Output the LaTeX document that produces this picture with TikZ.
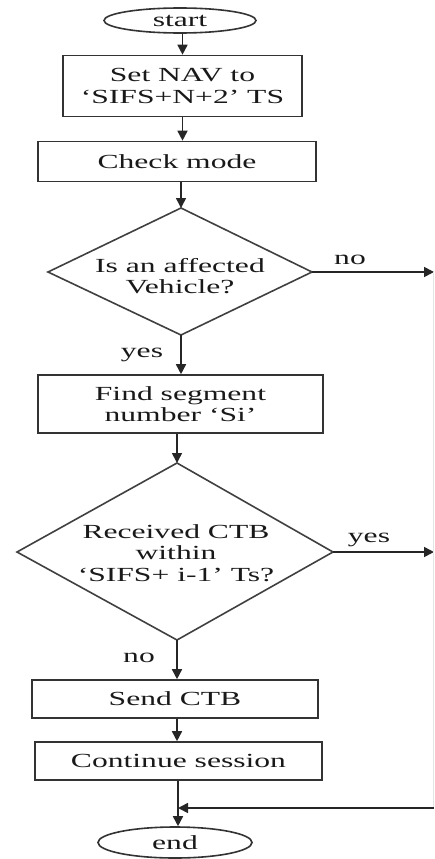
\documentclass[tikz,border=0pt]{standalone}
\usepackage{fontspec}
\setmainfont{Liberation Serif}[FakeStretch=1.58]
\usetikzlibrary{shapes.geometric,arrows.meta}
\begin{document}
\begin{tikzpicture}[x=1pt,y=-1pt,
  line width=1.6pt,
  font=\fontsize{20}{21.5}\selectfont,
  every node/.style={text=black!90},
  box/.style={draw=black!80, rectangle, inner sep=0pt, align=center},
  term/.style={draw=black!80, ellipse, inner sep=0pt},
  dtext/.style={align=center, inner sep=0pt},
  lab/.style={anchor=base, inner sep=0pt},
  arr/.style={draw=black!85, -{Triangle[length=10pt,width=10pt]}},
  dia/.style={draw=black!75},
  faint/.style={draw=black!10, line width=0.8pt}]
\useasboundingbox (0,0) rectangle (434,859);

% nodes
\node[term, minimum width=152pt, minimum height=25pt] (start) at (180,20.5) {start};
\node[box, minimum width=239pt, minimum height=61pt] (b1) at (182.5,86) {Set NAV to\\‘SIFS+N+2’ TS};
\node[box, minimum width=278pt, minimum height=40pt] (b2) at (177,161.5) {Check mode};

\coordinate (d1n) at (181,208);
\coordinate (d1e) at (312,272);
\coordinate (d1s) at (181,335);
\coordinate (d1w) at (48,272);
\draw[dia] (d1n) -- (d1e) -- (d1s) -- (d1w) -- cycle;
\node[dtext] (d1) at (180,276) {Is an affected\\Vehicle?};

\node[box, minimum width=285pt, minimum height=58pt] (b3) at (180.5,404) {Find segment\\number ‘Si’};

\coordinate (d2n) at (177,463);
\coordinate (d2e) at (333,552);
\coordinate (d2s) at (177,640);
\coordinate (d2w) at (17,552);
\draw[dia] (d2n) -- (d2e) -- (d2s) -- (d2w) -- cycle;
\node[dtext] (d2) at (176,553) {Received CTB\\within\\‘SIFS+ i-1’ Ts?};

\node[box, minimum width=286pt, minimum height=38pt] (b4) at (175,699) {Send CTB};
\node[box, minimum width=287pt, minimum height=38pt] (b5) at (178.5,761) {Continue session};
\node[term, minimum width=154pt, minimum height=31pt] (end) at (175,842.5) {end};

% labels
\node[lab] (lno1) at (350,264) {no};
\node[lab] (lyes1) at (142,357) {yes};
\node[lab] (lyes2) at (369,542) {yes};
\node[lab] (lno2) at (139,662) {no};

% right-hand coordinates
\coordinate (r1) at (434,272);
\coordinate (r2) at (434,552);
\coordinate (r3) at (434,808);
\coordinate (j) at (178,808);

% connectors
\draw[arr] (start.south -| b1.north) -- (b1.north);
\draw[arr] (b1.south) -- (b1.south |- b2.north);
\draw[arr] (d1n |- b2.south) -- (d1n);
\draw[arr] (d1s) -- (d1s |- b3.north);
\draw[arr] (d2n |- b3.south) -- (d2n);
\draw[arr] (d2s) -- (d2s |- b4.north);
\draw[arr] (d2s |- b4.south) -- (d2s |- b5.north);
\draw[draw=black!85] (j |- b5.south) -- (j);
\draw[arr] (j) -- (j |- end.north);
\draw[arr] (d1e) -- (r1);
\draw[arr] (d2e) -- (r2);
\draw[faint] ([xshift=-0.5pt]r1) -- ([xshift=-0.5pt]r3);
\draw[arr] (r3) -- (j);
\end{tikzpicture}
\end{document}
